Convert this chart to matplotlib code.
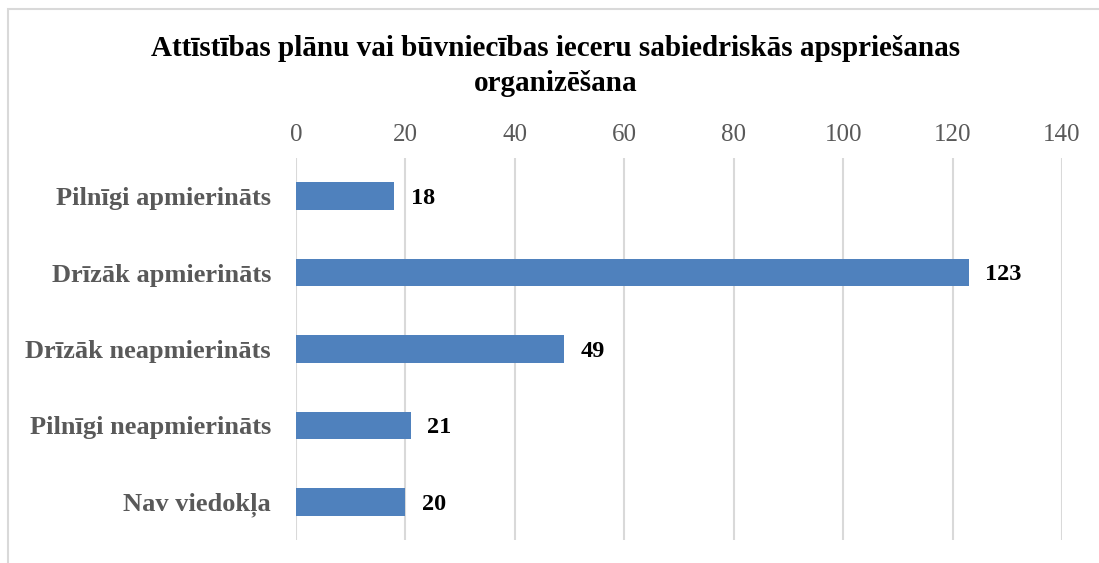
import matplotlib
matplotlib.use("Agg")
from matplotlib import pyplot as plt
from matplotlib.patches import Rectangle

# -----------DATA-----------------
categories = [
    "Pilnīgi apmierināts",
    "Drīzāk apmierināts",
    "Drīzāk neapmierināts",
    "Pilnīgi neapmierināts",
    "Nav viedokļa",
]
counts = [18, 123, 49, 21, 20]
x_ticks = [0, 20, 40, 60, 80, 100, 120, 140]
title = "Attīstības plānu vai būvniecības ieceru sabiedriskās apspriešanas\norganizēšana"

# -----------STYLE-----------------
plt.rcParams["font.family"] = ["Liberation Serif", "DejaVu Serif"]
bar_color = "#4f81bd"
grid_color = "#d9d9d9"
gray_text = "#595959"

fig = plt.figure(figsize=(10.99, 5.63), dpi=100)
ax = fig.add_axes([296 / 1099, 1 - 540 / 563, (1062 - 296) / 1099, (540 - 158) / 563])

# chart border (light gray frame)
fig.patches.append(
    Rectangle((7.5 / 1099, -0.1), 1.2, 1.1 - 9 / 563, transform=fig.transFigure,
              fill=False, edgecolor="#d9d9d9", linewidth=1.5)
)

ypos = list(range(len(categories)))
ax.barh(ypos, counts, height=0.36, color=bar_color, zorder=3)

for y, v in zip(ypos, counts):
    ax.text(v + 3.0, y + 0.03, str(v), va="center", ha="left",
            fontsize=17.5, fontweight="bold", color="black")

ax.set_xlim(0, 140)
ax.set_ylim(len(categories) - 0.5, -0.5)
ax.set_xticks(x_ticks)
ax.xaxis.tick_top()
ax.tick_params(axis="x", length=0, pad=9, labelsize=18, labelcolor=gray_text)
ax.tick_params(axis="y", length=0, pad=18, labelsize=19, labelcolor=gray_text)
ax.set_yticks(ypos)
ax.set_yticklabels(categories, fontweight="bold")

ax.grid(axis="x", color=grid_color, linewidth=1.5, zorder=0)
for s in ax.spines.values():
    s.set_visible(False)

fig.text(0.5 + 6 / 1099, 1 - 66 / 563, title, ha="center", va="center",
         fontsize=21, fontweight="bold", linespacing=1.35)

fig.savefig("out.png", dpi=100)
